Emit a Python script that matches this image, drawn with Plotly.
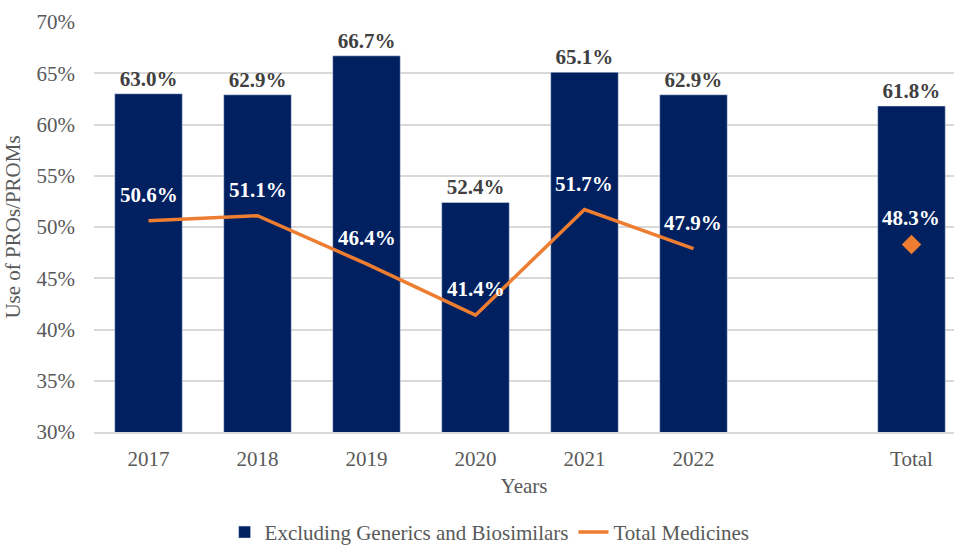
import plotly.graph_objects as go

categories = ["2017", "2018", "2019", "2020", "2021", "2022", " ", "Total"]
excl_values = [63.0, 62.9, 66.7, 52.4, 65.1, 62.9, None, 61.8]
total_line = [50.6, 51.1, 46.4, 41.4, 51.7, 47.9, None, None]
total_point = [None, None, None, None, None, None, None, 48.3]

NAVY = "#002060"
ORANGE = "#ED7D31"
FONT = "Liberation Serif"
GRAY = "#595959"
FS = 21

def fmt(v):
    return "" if v is None else f"{v:.1f}%"

fig = go.Figure()
fig.add_trace(go.Bar(
    x=categories, y=excl_values, name="Excluding Generics and Biosimilars",
    marker=dict(color=NAVY), width=0.62,
    text=[fmt(v) for v in excl_values], textposition="outside",
    textfont=dict(family=FONT, size=FS, color="#404040"),
    texttemplate="<b>%{text}</b>", cliponaxis=False,
))
fig.add_trace(go.Scatter(
    x=categories, y=total_line, name="Total Medicines", mode="lines",
    line=dict(color=ORANGE, width=3.5), cliponaxis=False,
))
fig.add_trace(go.Scatter(
    x=categories, y=total_point, name="Total Medicines", mode="markers",
    marker=dict(symbol="diamond", color=ORANGE, size=15),
    showlegend=False, cliponaxis=False,
))

# white labels for the Total Medicines series, placed above each point
for i, (a, b) in enumerate(zip(total_line, total_point)):
    v = a if a is not None else b
    if v is None:
        continue
    fig.add_annotation(
        x=i, y=v, text=f"<b>{fmt(v)}</b>", showarrow=False,
        yshift=26, yanchor="middle",
        font=dict(family=FONT, size=FS, color="white"),
    )

fig.update_layout(
    width=954, height=547,
    margin=dict(l=94, r=0, t=22, b=115, autoexpand=False),
    plot_bgcolor="white", paper_bgcolor="white",
    font=dict(family=FONT, size=FS, color=GRAY),
    showlegend=True,
    legend=dict(orientation="h", x=0.46, xanchor="center", y=-0.245, yanchor="middle",
                font=dict(family=FONT, size=FS, color=GRAY), itemwidth=30,
                traceorder="normal"),
)
fig.update_xaxes(
    type="category", range=[-0.5, 7.39],
    title=dict(text="Years", font=dict(family=FONT, size=FS, color=GRAY), standoff=8),
    tickfont=dict(family=FONT, size=FS, color=GRAY), ticklabelstandoff=7,
    showgrid=False, showline=True, linecolor="#D9D9D9", linewidth=1.5, ticks="",
    automargin=False,
)
fig.update_yaxes(
    range=[30, 70], dtick=5, ticksuffix="%",
    title=dict(text="Use of PROs/PROMs", font=dict(family=FONT, size=FS, color=GRAY), standoff=10),
    tickfont=dict(family=FONT, size=FS, color=GRAY), ticklabelstandoff=18,
    showgrid=True, gridcolor="#D9D9D9", gridwidth=1.5, zeroline=False, ticks="",
    automargin=False,
)

fig.write_html("out.html")
